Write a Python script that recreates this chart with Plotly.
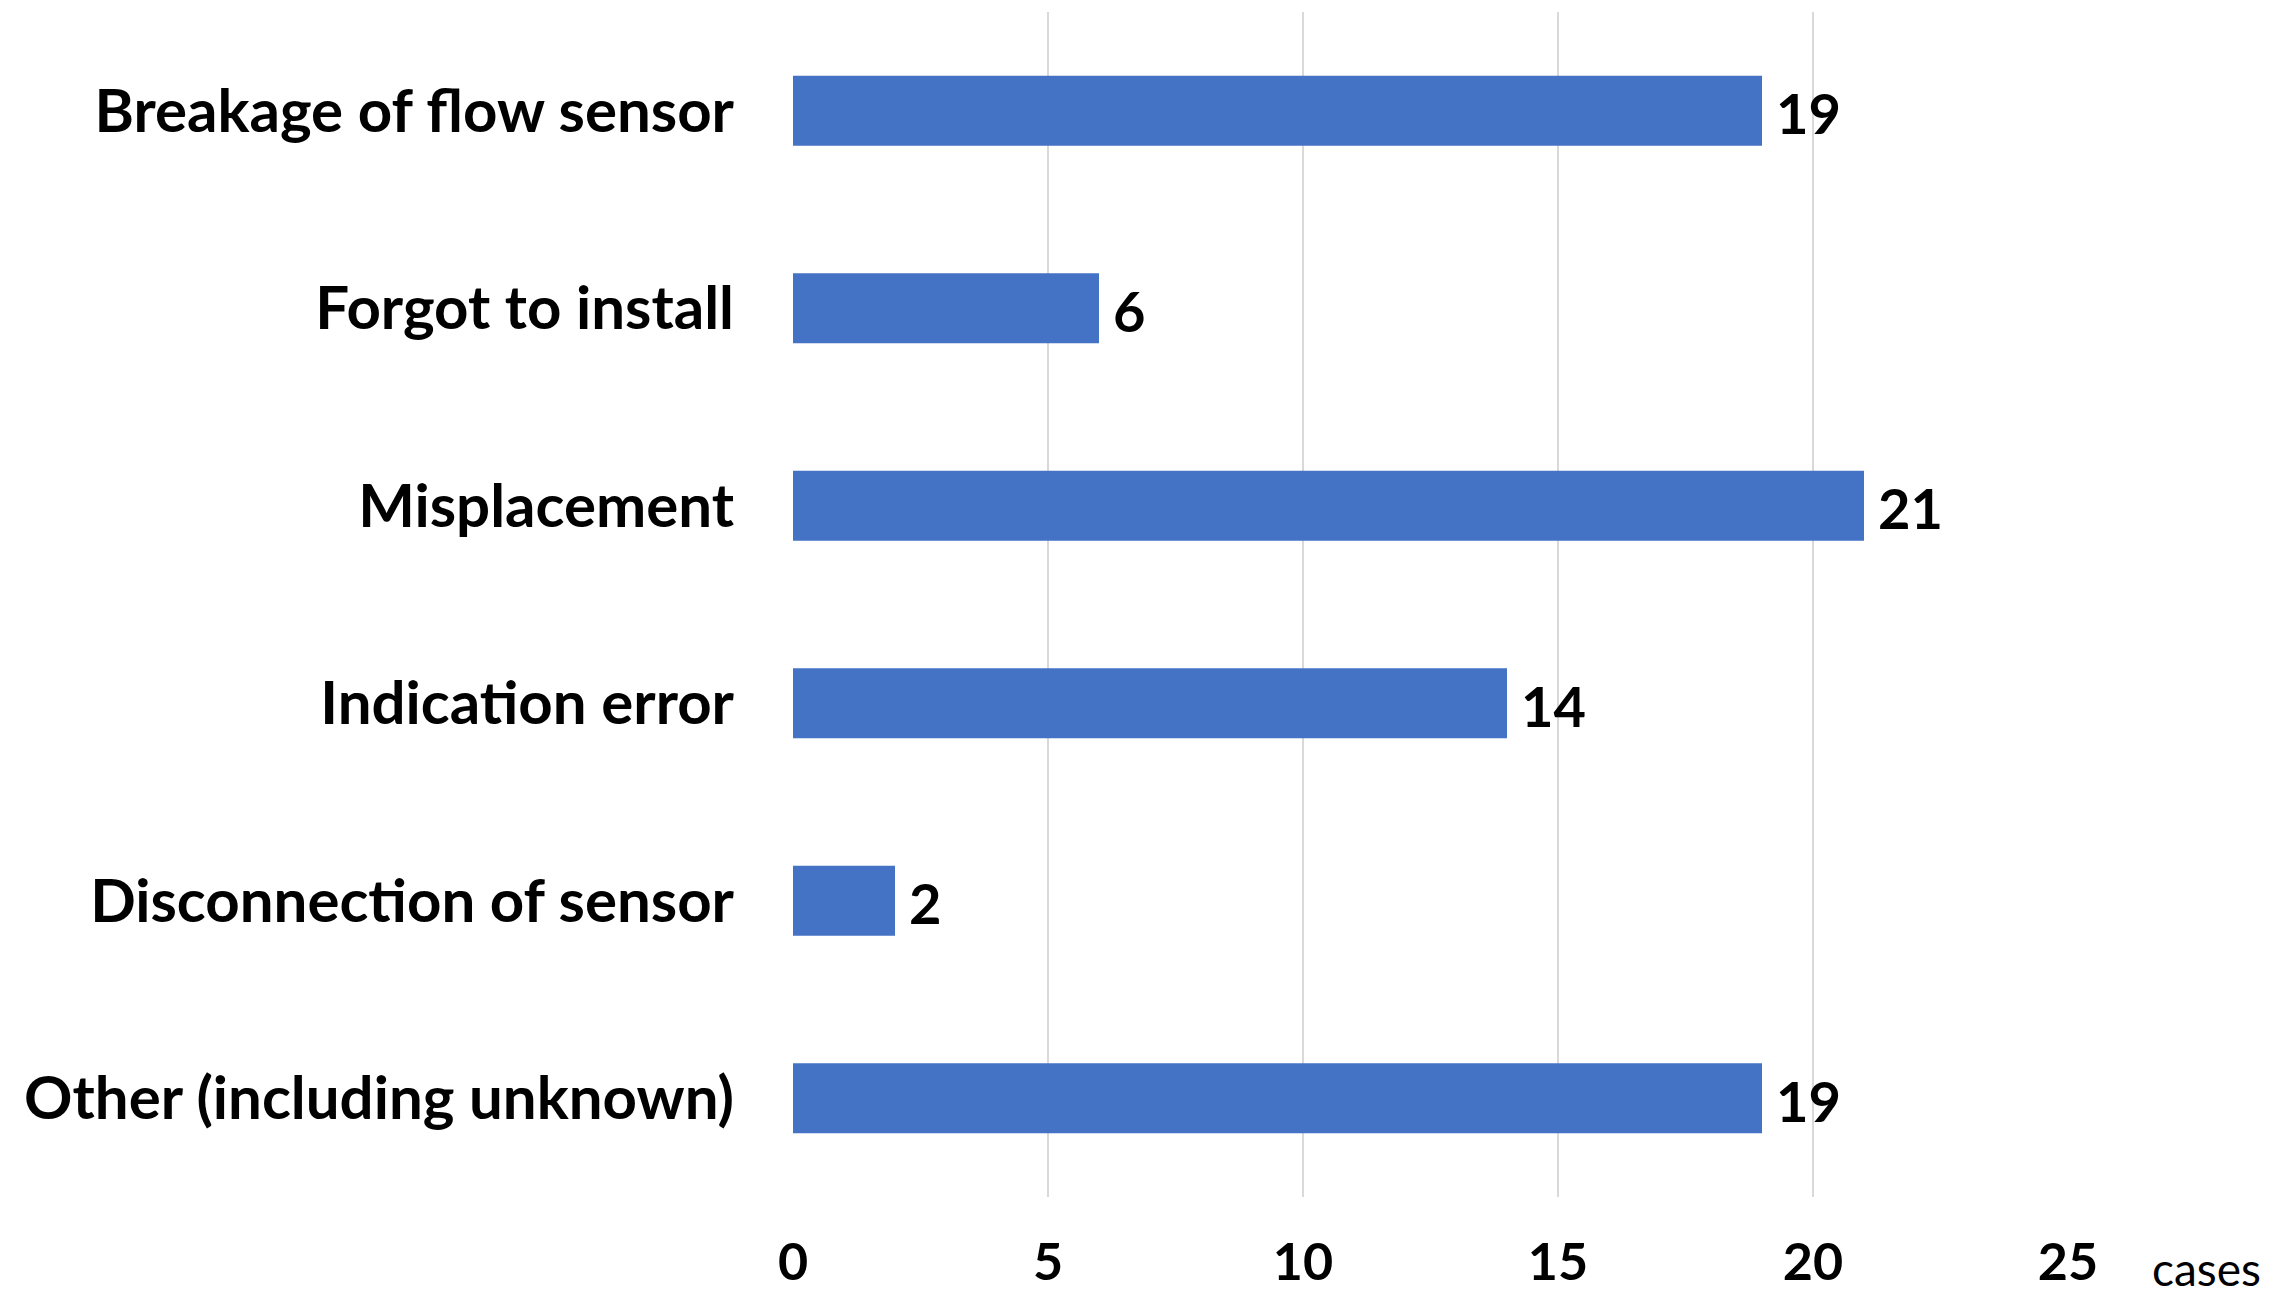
import plotly.graph_objects as go

categories = [
    "Breakage of flow sensor",
    "Forgot to install",
    "Misplacement",
    "Indication error",
    "Disconnection of sensor",
    "Other (including unknown)",
]
cases = [19, 6, 21, 14, 2, 19]
x_ticks = [0, 5, 10, 15, 20, 25]
unit_label = "cases"

BAR_COLOR = "#4472C4"
FONT = "Lato"

# Page body has an 8px default margin; figure sized to fit the window
W, H = 2274, 1292
left, right, top, bottom = 785, 2060, 4, 1189  # plot area in figure pixels

fig = go.Figure()
fig.add_trace(go.Bar(
    x=cases,
    y=categories,
    orientation="h",
    marker=dict(color=BAR_COLOR, line=dict(width=0)),
    width=0.355,
    hoverinfo="x+y",
))

for c, v in zip(categories, cases):
    fig.add_annotation(
        x=v, y=c, xref="x", yref="y",
        text=str(v), showarrow=False,
        xanchor="left", yanchor="middle",
        xshift=12, yshift=-2,
        font=dict(family=FONT, size=56, color="#000000", weight=700),
    )

fig.add_annotation(
    x=(2198 - left) / (right - left),
    y=-(1290 - bottom) / (bottom - top),
    xref="paper", yref="paper",
    text=unit_label, showarrow=False,
    xanchor="center", yanchor="bottom",
    font=dict(family=FONT, size=46, color="#000000"),
)

fig.update_layout(
    width=W, height=H,
    margin=dict(l=left, r=W - right, t=top, b=H - bottom, pad=0, autoexpand=False),
    paper_bgcolor="white",
    plot_bgcolor="white",
    showlegend=False,
)

fig.update_xaxes(
    range=[0, 25],
    tickvals=x_ticks,
    ticktext=[str(t) for t in x_ticks],
    showgrid=True, gridcolor="#D9D9D9", gridwidth=1.5,
    zeroline=False, showline=False, ticks="",
    tickfont=dict(family=FONT, size=52, color="#000000", weight=700),
    ticklabelstandoff=30,
    automargin=False,
)
fig.update_yaxes(
    categoryorder="array", categoryarray=categories,
    autorange="reversed",
    showgrid=False, zeroline=False, showline=False, ticks="",
    tickfont=dict(family=FONT, size=60, color="#000000", weight=700),
    ticklabelstandoff=58,
    automargin=False,
)

fig.write_html("out.html")
